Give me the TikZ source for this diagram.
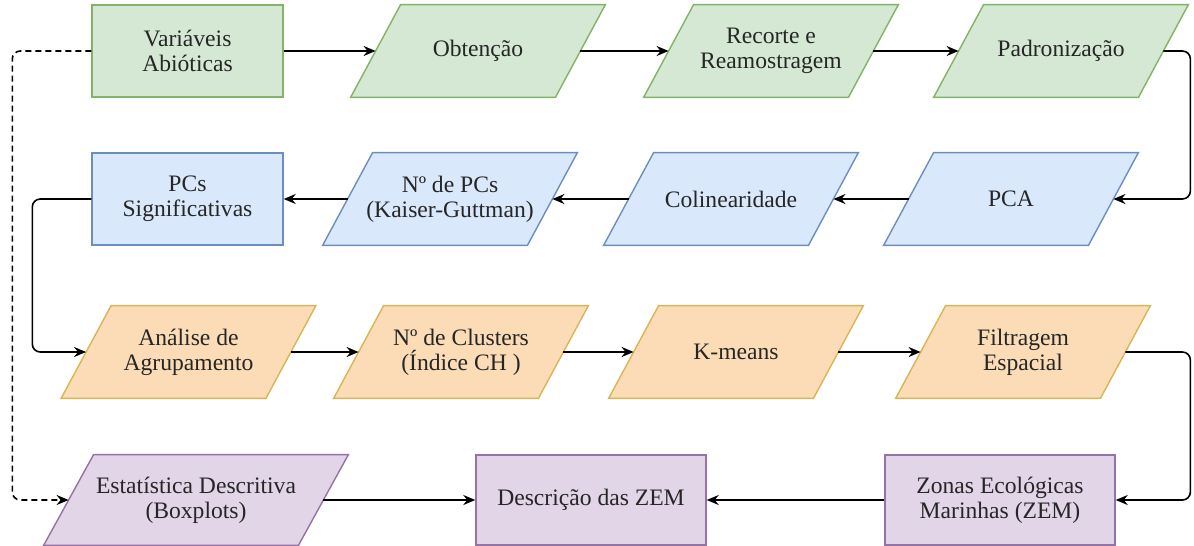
\documentclass[tikz,border=0pt]{standalone}
\usepackage{fontspec}
\setmainfont{LiberationSerif}[Extension=.ttf, UprightFont=*-Regular, BoldFont=*-Bold]
\usetikzlibrary{calc, positioning, backgrounds, arrows.meta}
\definecolor{verdefill}{HTML}{D5E8D4}
\definecolor{verdeline}{HTML}{82B366}
\definecolor{azulfill}{HTML}{DAE8FC}
\definecolor{azulline}{HTML}{6C8EBF}
\definecolor{laranjafill}{HTML}{FBDCB6}
\definecolor{laranjaline}{HTML}{D6B656}
\definecolor{roxofill}{HTML}{E1D5E7}
\definecolor{roxoline}{HTML}{9673A6}
\def\slant{25}
\tikzset{
base/.style={align=center, inner sep=1pt, minimum height=46pt, text=black!85,
	font=\fontsize{11.8}{12.4}\selectfont},
io/.style={base, minimum width=#1},
io/.default=102pt,
caixa/.style 2 args={base, draw=#1line, fill=#1fill, line width=0.7pt, minimum width=#2},
verde/.style={draw=verdeline, fill=verdefill, line width=0.7pt},
azul/.style={draw=azulline, fill=azulfill, line width=0.7pt},
laranja/.style={draw=laranjaline, fill=laranjafill, line width=0.7pt},
roxo/.style={draw=roxoline, fill=roxofill, line width=0.7pt},
flow/.style={-{Stealth[length=6pt,width=5pt]}, line width=0.8pt, rounded corners=4pt},
}

\begin{document}
\begin{tikzpicture}[x=0.5pt, y=-0.5pt]
	\useasboundingbox (0,0) rectangle (1194,546);
	
	% linha 1
	\node[caixa={verde}{95.5pt}] (var) at (187.5,51) {Variáveis\\Abióticas};
	\node[io] (obt) at (478,51) {Obtenção};
	\node[io] (rec) at (771,51) {Recorte e\\Reamostragem};
	\node[io] (pad) at (1061,51) {Padronização};
	
	% linha 2
	\node[caixa={azul}{95.5pt}] (pcs) at (187.5,199) {PCs\\Significativas};
	\node[io] (npc) at (450,199) {Nº de PCs\\(Kaiser-Guttman)};
	\node[io] (col) at (731,199) {Colinearidade};
	\node[io] (pca) at (1011,199) {PCA};
	
	% linha 3
	\node[io] (ana) at (188.5,352) {Análise de\\Agrupamento};
	\node[io] (clu) at (461,352) {Nº de Clusters\\(Índice CH )};
	\node[io] (kme) at (736,352) {K-means};
	\node[io] (fil) at (1023,352) {Filtragem\\Espacial};
	
	% linha 4
	\node[io=127pt, minimum height=45pt] (est) at (196,500) {Estatística Descritiva\\(Boxplots)};
	\node[caixa={roxo}{115pt}, minimum height=45pt] (des) at (591,500) {Descrição das ZEM};
	\node[caixa={roxo}{115pt}, minimum height=45pt] (zem) at (1000,500) {Zonas Ecológicas\\Marinhas (ZEM)};
	
	% paralelogramos
	\begin{scope}[on background layer]
	\foreach \n/\c in {obt/verde, rec/verde, pad/verde, npc/azul, col/azul, pca/azul,
		ana/laranja, clu/laranja, kme/laranja, fil/laranja, est/roxo}
		\draw[\c] ($(\n.south west)+(-\slant,0)$) -- ($(\n.south east)+(-\slant,0)$)
			-- ($(\n.north east)+(\slant,0)$) -- ($(\n.north west)+(\slant,0)$) -- cycle;
	\end{scope}
	
	% setas
	\draw[flow] (var.east) -- (obt.west);
	\draw[flow] (obt.east) -- (rec.west);
	\draw[flow] (rec.east) -- (pad.west);
	\draw[flow] (pad.east) -- ++(27,0) |- (pca.east);
	\draw[flow] (pca.west) -- (col.east);
	\draw[flow] (col.west) -- (npc.east);
	\draw[flow] (npc.west) -- (pcs.east);
	\draw[flow] (pcs.west) -- ++(-59,0) |- (ana.west);
	\draw[flow] (ana.east) -- (clu.west);
	\draw[flow] (clu.east) -- (kme.west);
	\draw[flow] (kme.east) -- (fil.west);
	\draw[flow] (fil.east) -- ++(65,0) |- (zem.east);
	\draw[flow] (zem.west) -- (des.east);
	\draw[flow] (est.east) -- (des.west);
	\draw[flow, dash pattern=on 3pt off 2pt] (var.west) -- ++(-79,0) |- (est.west);
\end{tikzpicture}
\end{document}
